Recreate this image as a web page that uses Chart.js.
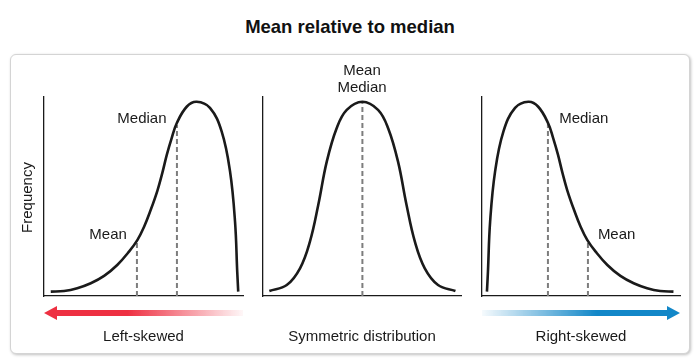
<!DOCTYPE html>
<html>
<head>
<meta charset="utf-8">
<script src="https://cdn.jsdelivr.net/npm/chart.js@4.4.0/dist/chart.umd.min.js"></script>
<style>
body { margin:0; width:700px; height:364px; background:#fff; position:relative; overflow:hidden; font-family:'Liberation Sans', Arial, sans-serif; }
#titulo { position:absolute; left:0; top:17px; width:700px; text-align:center; font-weight:bold; font-size:18.5px; line-height:20px; color:#111; }
#caja { position:absolute; left:10px; top:54px; width:680px; height:300px; box-sizing:border-box; border:1px solid #d4d4d4; border-radius:6px; box-shadow:1px 1px 3px rgba(0,0,0,0.25); background:#fff; }
canvas { position:absolute; top:54px; }
</style>
</head>
<body>
<div id="titulo">Mean relative to median</div>
<div id="caja"></div>
<canvas id="izq" width="243" height="300" style="left:10px"></canvas>
<canvas id="centro" width="218" height="300" style="left:253px"></canvas>
<canvas id="der" width="219" height="300" style="left:471px"></canvas>
<script>
// curvas (x de 0 a 100, y frecuencia de 0 a 100)
var leftX = [3.4, 10.1, 16.7, 23.5, 30.2, 36.8, 42.7, 46.9, 50.3, 53.6, 57.0, 59.5, 61.7, 64.2, 66.7, 71.7, 76.7, 83.4, 89.3, 93.5, 96.0, 97.1, 97.6]
var leftY = [2.2, 2.5, 3.9, 6.4, 10.1, 15.6, 22.3, 28.1, 34.8, 43.2, 53.0, 62.0, 70.9, 79.5, 86.8, 95.1, 97.6, 94.5, 82.6, 62.5, 37.3, 12.2, 2.2]

var midX = [3.2, 12.0, 18.7, 23.7, 27.9, 32.2, 37.2, 42.3, 50.2, 58.1, 63.2, 68.2, 72.5, 76.7, 81.7, 88.4, 97.2]
var midY = [2.5, 5.5, 13.9, 27.3, 45.7, 67.5, 84.3, 93.5, 97.6, 93.5, 84.3, 67.5, 45.7, 27.3, 13.9, 5.5, 2.5]

var rightX = [2.5, 3.0, 4.1, 6.6, 10.8, 16.7, 23.4, 28.4, 33.4, 35.9, 38.4, 40.6, 43.1, 46.5, 49.8, 53.2, 57.4, 63.3, 69.9, 76.6, 83.4, 90.0, 96.7]
var rightY = [2.2, 12.2, 37.3, 62.5, 82.6, 94.5, 97.6, 95.1, 86.8, 79.5, 70.9, 62.0, 53.0, 43.2, 34.8, 28.1, 22.3, 15.6, 10.1, 6.4, 3.9, 2.5, 2.2]

// mean / median: [x, altura]
var leftMarks = [[46.7, 27.1], [66.8, 85.9]]
var midMarks = [[50.2, 97.6]]
var rightMarks = [[33.3, 86.9], [53.5, 26.6]]

var captions = ["Left-skewed", "Symmetric distribution", "Right-skewed"]

var FUENTE = '"Liberation Sans", Arial, sans-serif'

function dibujarFlecha(ctx, area, a) {
    var y = area.bottom + 17
    var x0 = area.left, x1 = area.right
    var g = ctx.createLinearGradient(x0, 0, x1, 0)
    if (a.dir == 'left') {
        g.addColorStop(0, a.color); g.addColorStop(0.42, a.color); g.addColorStop(1, a.fade)
    } else {
        g.addColorStop(0, a.fade); g.addColorStop(0.58, a.color); g.addColorStop(1, a.color)
    }
    ctx.fillStyle = g
    ctx.beginPath()
    if (a.dir == 'left') {
        ctx.moveTo(x0, y); ctx.lineTo(x0 + 13, y - 7); ctx.lineTo(x0 + 13, y - 3)
        ctx.lineTo(x1, y - 3); ctx.lineTo(x1, y + 3); ctx.lineTo(x0 + 13, y + 3); ctx.lineTo(x0 + 13, y + 7)
    } else {
        ctx.moveTo(x1, y); ctx.lineTo(x1 - 13, y - 7); ctx.lineTo(x1 - 13, y - 3)
        ctx.lineTo(x0, y - 3); ctx.lineTo(x0, y + 3); ctx.lineTo(x1 - 13, y + 3); ctx.lineTo(x1 - 13, y + 7)
    }
    ctx.closePath()
    ctx.fill()
}

var extras = {
    id: 'extras',
    afterDraw: function(chart, args, opts) {
        var ctx = chart.ctx
        var sx = chart.scales.x, sy = chart.scales.y
        var area = chart.chartArea
        ctx.save()
        ctx.font = '15px ' + FUENTE
        ctx.fillStyle = '#1a1a1a'
        ctx.textAlign = 'center'
        ctx.textBaseline = 'alphabetic'
        opts.labels.forEach(function(l) {
            ctx.fillText(l.text, sx.getPixelForValue(l.x), sy.getPixelForValue(l.y))
        })
        ctx.fillText(opts.caption, (area.left + area.right) / 2, area.bottom + 45)
        if (opts.arrow) dibujarFlecha(ctx, area, opts.arrow)
        if (opts.yTitle) {
            ctx.fillStyle = '#1a1a1a'
            ctx.translate(area.left - 12.3, (area.top + area.bottom) / 2 + 1)
            ctx.rotate(-Math.PI / 2)
            ctx.fillText(opts.yTitle, 0, 0)
        }
        ctx.restore()
    }
}

function crearPanel(id, xs, ys, marcas, pad, extrasOpts) {
    var curva = xs.map(function(v, i) { return {x: v, y: ys[i]} })
    var datasets = [{
        data: curva, borderColor: '#1a1a1a', borderWidth: 2.6, pointRadius: 0,
        tension: 0.4, fill: false
    }]
    marcas.forEach(function(m) {
        datasets.push({
            data: [{x: m[0], y: 0}, {x: m[0], y: m[1]}],
            borderColor: '#7d7d7d', borderWidth: 2, borderDash: [5, 3], pointRadius: 0, fill: false
        })
    })
    var eje = {
        type: 'linear', min: 0, max: 100,
        grid: {display: false, drawTicks: false},
        ticks: {display: false},
        border: {display: true, color: '#1a1a1a', width: 1.3}
    }
    new Chart(document.getElementById(id), {
        type: 'line',
        data: {datasets: datasets},
        options: {
            responsive: false,
            animation: false,
            events: [],
            layout: {padding: pad},
            scales: {x: eje, y: Object.assign({}, eje)},
            plugins: {legend: {display: false}, tooltip: {enabled: false}, extras: extrasOpts}
        },
        plugins: [extras]
    })
}

crearPanel('izq', leftX, leftY, leftMarks, {left: 34, right: 10, top: 43, bottom: 58}, {
    labels: [{text: 'Median', x: 49.2, y: 86.8}, {text: 'Mean', x: 32.2, y: 28.5}],
    caption: captions[0],
    yTitle: 'Frequency',
    arrow: {dir: 'left', color: 'rgb(238,48,66)', fade: 'rgba(238,48,66,0.04)'}
})

crearPanel('centro', midX, midY, midMarks, {left: 10, right: 10, top: 43, bottom: 58}, {
    labels: [{text: 'Mean', x: 50.0, y: 111.1}, {text: 'Median', x: 50.0, y: 102.4}],
    caption: captions[1]
})

crearPanel('der', rightX, rightY, rightMarks, {left: 11, right: 10, top: 43, bottom: 58}, {
    labels: [{text: 'Median', x: 51.4, y: 86.8}, {text: 'Mean', x: 68.0, y: 28.5}],
    caption: captions[2],
    arrow: {dir: 'right', color: 'rgb(18,135,200)', fade: 'rgba(18,135,200,0.04)'}
})
</script>
</body>
</html>
